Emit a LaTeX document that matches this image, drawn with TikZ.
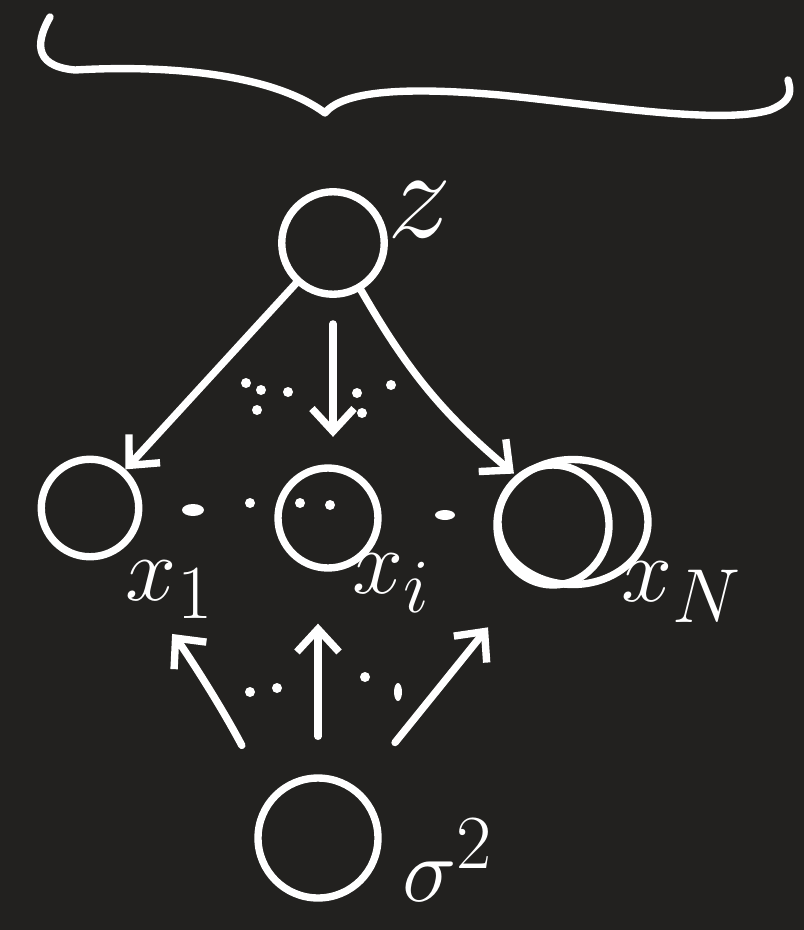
\documentclass[tikz,border=0pt]{standalone}
\usepackage{amsmath}
\usetikzlibrary{arrows.meta,shapes.geometric}
\definecolor{board}{RGB}{34,33,31}

\begin{document}
\begin{tikzpicture}[
  x=0.02cm, y=-0.02cm, >={Straight Barb[length=13pt,width=24pt]},
  ink/.style={draw=white, line width=4.2pt, line cap=round, line join=round},
  var/.style={circle, ink, minimum size=#1, inner sep=0pt},
  lbl/.style={text=white, inner sep=0pt, font=\Huge, scale=2.1},
  spot/.style={fill=white}
]
\fill[board] (0,0) rectangle (804,930);
% plate brace
\draw[ink] (50,17) .. controls (38,38) and (30,66) .. (75,70)
  .. controls (160,65) and (270,72) .. (325,113)
  .. controls (345,88) and (420,88) .. (500,95)
  .. controls (600,105) and (720,125) .. (770,110)
  .. controls (795,100) and (790,88) .. (788,80);
% variables
\node[var=2.05cm] (z) at (333,243) {};
\node[var=1.95cm] (x1) at (90,508) {};
\node[var=2.0cm] (xi) at (328,518) {};
\node[ellipse, ink, minimum width=3.0cm, minimum height=2.5cm, inner sep=0pt] (xN) at (573,522) {};
\draw[ink] (553,525) ellipse [x radius=56, y radius=60];
\node[var=2.4cm] (s) at (318,838) {};
% labels
\node[lbl, scale=1.4] (lz) at (420,210) {$z$};
\node[lbl] (lx1) at (170,590) {$x_1$};
\node[lbl] (lxi) at (392,583) {$x_i$};
\node[lbl] (lxN) at (682,592) {$x_N$};
\node[lbl] (ls) at (448,860) {$\sigma^2$};
% edges
\draw[ink,->] (z) -- (x1);
\draw[ink,->, shorten <=0.52cm, shorten >=0.55cm] (z.south) -- (z.south |- xi.north);
\draw[ink,->, shorten >=2pt] (z) to[bend right=10] (xN);
\draw[ink,->, shorten <=1.17cm, shorten >=2cm] (s.140) to[bend right=6] (x1.-70);
\draw[ink,->, shorten <=0.76cm, shorten >=1.04cm] (s.north) -- (s.north |- xi.south);
\draw[ink,->, shorten <=1.18cm, shorten >=1.3cm] (s) -- (xN);
% dots
\fill[spot] (193,510) ellipse [x radius=11, y radius=6];
\foreach \p in {(250,503),(300,503),(330,505),(246,383),(261,390),(288,392),(257,410),
  (357,393),(362,413),(391,385),(250,692),(277,688),(365,677)}
  \fill[spot] \p circle [radius=5];
\fill[spot] (445,515) ellipse [x radius=10, y radius=5];
\fill[spot] (398,692) ellipse [x radius=4, y radius=9];
\end{tikzpicture}
\end{document}
